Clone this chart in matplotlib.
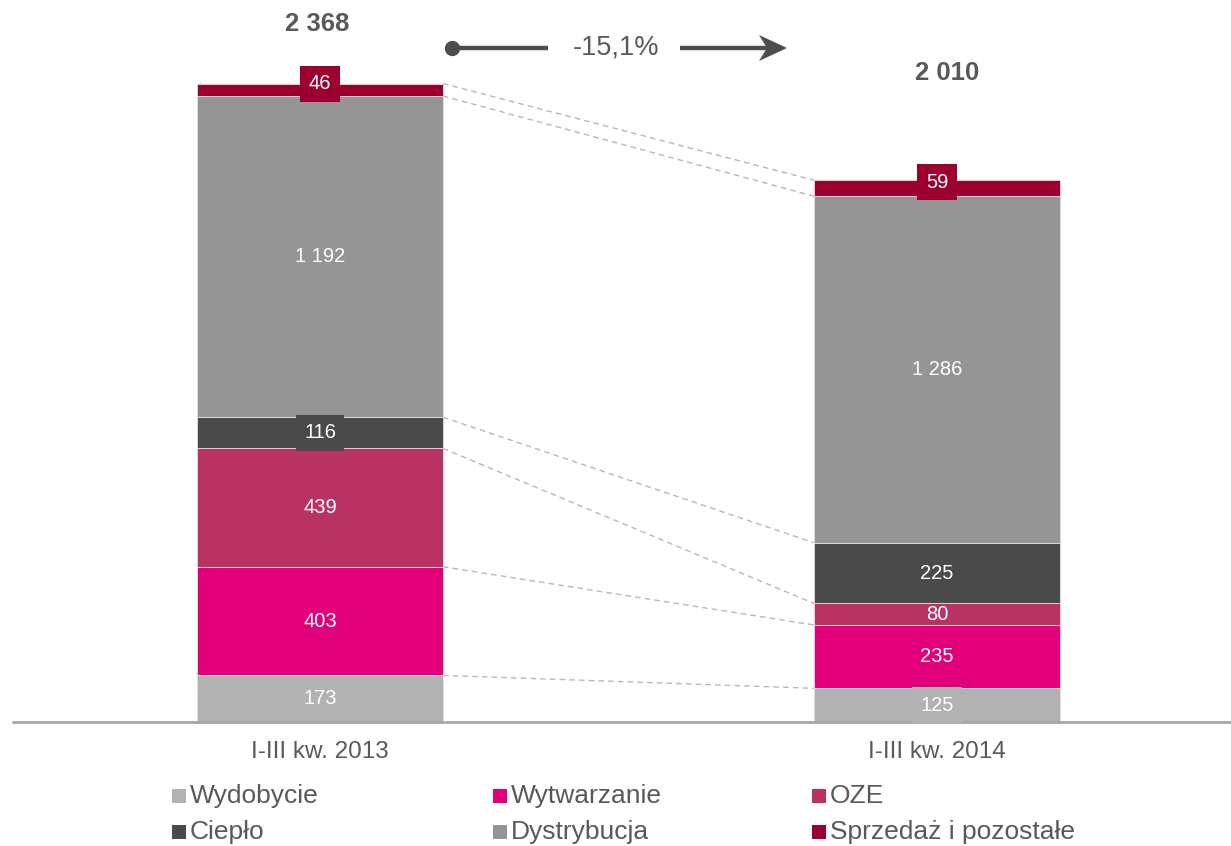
import matplotlib
matplotlib.use("Agg")
import matplotlib.pyplot as plt
import numpy as np

plt.rcParams['font.family'] = ['Liberation Sans', 'DejaVu Sans']

# ---- data ----
periods = ["I-III kw. 2013", "I-III kw. 2014"]
segments = ["Wydobycie", "Wytwarzanie", "OZE", "Ciepło", "Dystrybucja", "Sprzedaż i pozostałe"]
values_2013 = [173, 403, 439, 116, 1192, 46]
values_2014 = [125, 235, 80, 225, 1286, 59]
total_labels = ["2 368", "2 010"]
change_label = "-15,1%"

colors = ["#B2B2B2", "#E2007A", "#B83364", "#4A4A4A", "#959595", "#9B0030"]

# ---- layout ----
W, H = 1231, 846
fig = plt.figure(figsize=(W / 100, H / 100), dpi=100)
px_per_unit = 0.2695
base_px = 722
ax = fig.add_axes([0, 0, 1, 1])
ax.set_xlim(0, W)
ax.set_ylim(-(H - base_px) / px_per_unit, base_px / px_per_unit)
ax.axis('off')

# overlay axes in pixel coordinates (y downwards)
ov = fig.add_axes([0, 0, 1, 1], facecolor='none')
ov.set_xlim(0, W)
ov.set_ylim(H, 0)
ov.axis('off')

bar_x = [320, 937]
bar_w = 246
series = [values_2013, values_2014]

bottoms = [np.concatenate([[0], np.cumsum(v)[:-1]]) for v in series]
tops = [np.cumsum(v) for v in series]

for i, seg in enumerate(segments):
    vals = [series[0][i], series[1][i]]
    bots = [bottoms[0][i], bottoms[1][i]]
    ax.bar(bar_x, vals, width=bar_w, bottom=bots, color=colors[i],
           edgecolor='#e0e0e0', linewidth=0.6, zorder=2)

# labels
no_box = {(1, 2)}
for b in range(2):
    for i in range(len(segments)):
        v = series[b][i]
        yc = bottoms[b][i] + v / 2
        if i == len(segments) - 1:
            yc += 6 / px_per_unit
        txt = f"{v:,}".replace(",", " ")
        bbox = None if (b, i) in no_box else dict(
            boxstyle='square,pad=0.42', facecolor=colors[i], edgecolor='none')
        ax.text(bar_x[b], yc, txt, ha='center', va='center', color='white',
                fontsize=14.5, zorder=4, bbox=bbox)

# connector dashed lines
xl = bar_x[0] + bar_w / 2
xr = bar_x[1] - bar_w / 2
for i in range(len(segments)):
    ax.plot([xl, xr], [tops[0][i], tops[1][i]], ls=(0, (4, 3)), color='#b8b8b8',
            lw=1.0, zorder=1)

# baseline
ax.plot([12, W], [0, 0], color='#a6a6a6', lw=2, zorder=3, solid_capstyle='butt')

# category labels
for b in range(2):
    ov.text(bar_x[b], 752, periods[b], ha='center', va='center', fontsize=17.5,
            color='#595959')

# totals
ov.text(317, 24, total_labels[0], ha='center', va='center', fontsize=18.5,
        fontweight='bold', color='#595959')
ov.text(947, 73, total_labels[1], ha='center', va='center', fontsize=18.5,
        fontweight='bold', color='#595959')

# change arrow
arrow_c = '#4d4d4d'
ov.plot([452, 548], [48, 48], color=arrow_c, lw=3.2, solid_capstyle='butt')
ov.plot([452], [48], 'o', color=arrow_c, ms=10)
ov.text(616, 47, change_label, ha='center', va='center', fontsize=19.5, color='#595959')
ov.plot([680, 772], [48, 48], color=arrow_c, lw=3.2, solid_capstyle='butt')
ov.add_patch(plt.Polygon([(787, 48), (759, 35), (767, 48), (759, 61)],
                         closed=True, color=arrow_c, lw=0))

# legend
leg_cols = [172, 493, 812]
leg_rows = [796, 832]
for i, seg in enumerate(segments):
    r, c = divmod(i, 3)
    x0, y0 = leg_cols[c], leg_rows[r]
    ov.add_patch(plt.Rectangle((x0, y0 - 7), 14, 14, color=colors[i], lw=0))
    ov.text(x0 + 18, y0, seg, ha='left', va='center', fontsize=19, color='#595959')

fig.savefig("out.png", dpi=100)
